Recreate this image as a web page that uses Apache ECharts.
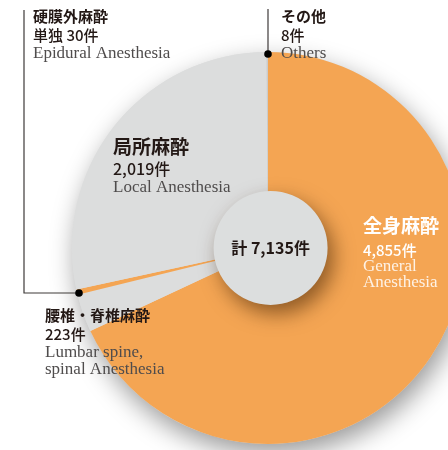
<!DOCTYPE html>
<html>
<head>
<meta charset="utf-8">
<script src="https://cdn.jsdelivr.net/npm/echarts@6/dist/echarts.min.js"></script>
<style>
  html, body { margin: 0; padding: 0; background: #fff; }
  #main { width: 448px; height: 450px; }
</style>
</head>
<body>
<div id="main"></div>
<script>
// data, clockwise from 12 o'clock
const namesJa = ['全身麻酔', '腰椎・脊椎麻酔', '硬膜外麻酔', '局所麻酔', 'その他'];
const countPrefix = ['', '', '単独 ', '', ''];
const namesEn = [['General', 'Anesthesia'], ['Lumbar spine,', 'spinal Anesthesia'], ['Epidural Anesthesia'], ['Local Anesthesia'], ['Others']];
const counts = [4855, 223, 30, 2019, 8];
const totalName = '計';
const total = counts.reduce((a, b) => a + b, 0);

const chartDom = document.getElementById('main');
const myChart = echarts.init(chartDom);

const ORANGE = '#F4A553';
const GREY = '#DCDDDD';
const colors = [ORANGE, GREY, ORANGE, GREY, '#C9CACA'];
const labelKind = ['w', 's', 's', 'b', 's'];
// label anchor (top-left of text block)
const labelPos = [[363, 211], [45, 306], [33, 7], [113, 135], [281, 7]];

const JP = '"Noto Sans CJK JP", "Noto Sans", sans-serif';
const SERIF = '"Liberation Serif", "DejaVu Serif", serif';
const INK = '#231815';
const EN = '#4f4c4c';

const fmt = n => n.toLocaleString('en-US');

const option = {
  animation: false,
  backgroundColor: '#fff',
  series: [
    {
      // backing disc for the drop shadow
      type: 'pie',
      silent: true,
      center: ['59.8%', '55.1%'],
      radius: 196,
      label: { show: false },
      labelLine: { show: false },
      itemStyle: {
        color: GREY,
        shadowBlur: 26,
        shadowOffsetX: 4,
        shadowOffsetY: 10,
        shadowColor: 'rgba(0,0,0,0.4)'
      },
      data: [{ value: total, name: '' }]
    },
    {
      type: 'pie',
      silent: true,
      center: ['59.8%', '55.1%'],
      radius: 196,
      startAngle: 90,
      clockwise: true,
      avoidLabelOverlap: false,
      itemStyle: { borderWidth: 0 },
      labelLine: { show: false },
      label: {
        show: true,
        formatter: p => {
          const i = p.dataIndex;
          const k = labelKind[i];
          const lines = [
            '{j' + k + '|' + namesJa[i] + '}',
            '{c' + k + '|' + countPrefix[i] + fmt(counts[i]) + '件}'
          ].concat(namesEn[i].map(s => '{e' + k + '|' + s + '}'));
          return lines.join('\n');
        },
        rich: {
          jw: { fontFamily: JP, fontSize: 19, fontWeight: 'bold', color: '#fff', lineHeight: 30 },
          cw: { fontFamily: JP, fontSize: 15, fontWeight: 500, color: '#fff', lineHeight: 18 },
          ew: { fontFamily: SERIF, fontSize: 17, color: 'rgba(255,255,255,0.85)', lineHeight: 16 },
          jb: { fontFamily: JP, fontSize: 19, fontWeight: 'bold', color: INK, lineHeight: 24 },
          cb: { fontFamily: JP, fontSize: 16, fontWeight: 500, color: INK, lineHeight: 20 },
          eb: { fontFamily: SERIF, fontSize: 17, color: EN, lineHeight: 18 },
          js: { fontFamily: JP, fontSize: 15, fontWeight: 'bold', color: INK, lineHeight: 19 },
          cs: { fontFamily: JP, fontSize: 15, fontWeight: 500, color: INK, lineHeight: 19 },
          es: { fontFamily: SERIF, fontSize: 17, color: EN, lineHeight: 17 }
        }
      },
      labelLayout: params => ({
        x: labelPos[params.dataIndex][0],
        y: labelPos[params.dataIndex][1],
        align: 'left',
        verticalAlign: 'top'
      }),
      data: counts.map((v, i) => ({
        value: v,
        name: namesJa[i],
        itemStyle: { color: colors[i] }
      }))
    },
    {
      // centre total
      type: 'pie',
      silent: true,
      center: ['60.4%', '55.1%'],
      radius: 57,
      labelLine: { show: false },
      label: {
        show: true,
        position: 'center',
        formatter: totalName + ' ' + fmt(total) + '件',
        fontFamily: JP,
        fontSize: 16,
        fontWeight: 'bold',
        color: INK
      },
      itemStyle: {
        color: '#DCDEDE',
        shadowBlur: 20,
        shadowOffsetX: 6,
        shadowOffsetY: 9,
        shadowColor: 'rgba(60,30,0,0.55)'
      },
      data: [{ value: total, name: totalName }]
    }
  ],
  graphic: [
    { type: 'polyline', z: 10, shape: { points: [[24, 10], [24, 293], [79, 293]] }, style: { stroke: '#3e3a39', lineWidth: 1.2, fill: null } },
    { type: 'circle', z: 11, shape: { cx: 79, cy: 293, r: 3.8 }, style: { fill: '#000' } },
    { type: 'polyline', z: 10, shape: { points: [[268, 9], [268, 54]] }, style: { stroke: '#3e3a39', lineWidth: 1.2, fill: null } },
    { type: 'circle', z: 11, shape: { cx: 268, cy: 54, r: 3.8 }, style: { fill: '#000' } }
  ]
};

myChart.setOption(option);
</script>
</body>
</html>
